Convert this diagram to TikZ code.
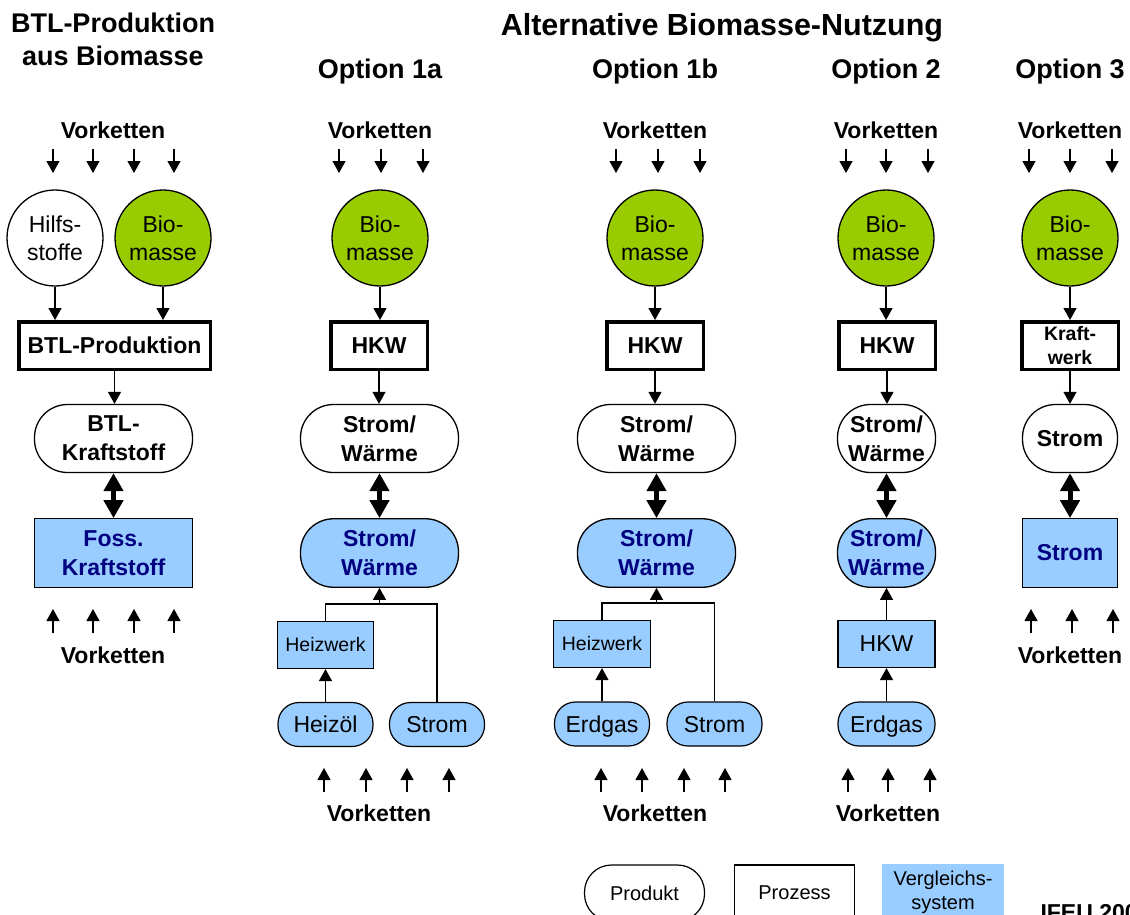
\documentclass[tikz,border=0pt]{standalone}
\usepackage{fontspec}
\setmainfont{Liberation Sans}
\usetikzlibrary{arrows.meta}

\definecolor{biogreen}{RGB}{153,204,0}
\definecolor{cmpblue}{RGB}{153,204,255}
\definecolor{cmpnavy}{RGB}{0,0,128}

\newcommand{\fsz}[2]{\fontsize{#1}{#2}\selectfont}

\tikzset{
  heading/.style={font=\bfseries\fsz{27}{33}, align=center},
  vk/.style={font=\bfseries\fsz{23}{28}},
  flow/.style={-{Triangle[width=13pt,length=12pt]}, line width=1.2pt},
  plainline/.style={line width=1.2pt},
  swapflow/.style={{Triangle[width=19pt,length=18pt]}-{Triangle[width=19pt,length=18pt]}, line width=5pt},
  circ/.style={circle, draw, line width=1.3pt, minimum size=96pt, inner sep=0pt,
    font=\fsz{23}{28}, align=center},
  proc/.style={draw, line width=3.5pt, minimum height=47.5pt, inner sep=0pt,
    font=\bfseries\fsz{23}{28}, align=center},
  prod/.style={draw, line width=1.3pt, rounded corners=33pt, minimum height=68pt, inner sep=0pt,
    font=\bfseries\fsz{23}{29}, align=center},
  cmpbig/.style={draw, line width=1.3pt, fill=cmpblue, text=cmpnavy, minimum height=68.5pt,
    inner sep=0pt, font=\bfseries\fsz{23}{29}, align=center},
  cmppill/.style={cmpbig, rounded corners=33pt},
  cmpbox/.style={draw, line width=1.2pt, fill=cmpblue, minimum height=47pt, inner sep=0pt,
    font=\fsz{19.5}{24}, align=center},
  cmpsmall/.style={draw, line width=1.2pt, fill=cmpblue, rounded corners=21pt,
    minimum height=44pt, minimum width=95pt, inner sep=0pt, font=\fsz{23}{28}, text depth=0pt},
}

\begin{document}
\begin{tikzpicture}[x=1pt, y=-1pt]
\useasboundingbox (0,0) rectangle (1130,914);
\clip (0,0) rectangle (1130,914);

% ---------- headings ----------
\node[heading] (t-btl) at (113,39) {BTL-Produktion\\aus Biomasse};
\node[heading, font=\bfseries\fsz{30.5}{33}] (t-alt) at (722,28) {Alternative Biomasse-Nutzung};
\node[heading] (t-o1a) at (380,72) {Option 1a};
\node[heading] (t-o1b) at (655,72) {Option 1b};
\node[heading] (t-o2) at (886,72) {Option 2};
\node[heading] (t-o3) at (1070,72) {Option 3};

% ---------- upstream chains (top) ----------
\node[vk] (vk-btl) at (113,130) {Vorketten};
\node[vk] (vk-1a) at (380,130) {Vorketten};
\node[vk] (vk-1b) at (655,130) {Vorketten};
\node[vk] (vk-2) at (886,130) {Vorketten};
\node[vk] (vk-3) at (1070,130) {Vorketten};
\foreach \x in {53,93,134,174, 339,381,423, 616,658,700, 846,886,928, 1029,1070,1112}
  \draw[flow] (\x,149) -- (\x,173);

% ---------- raw materials ----------
\node[circ, fill=white] (hilfs) at (55,238) {Hilfs-\\stoffe};
\node[circ, fill=biogreen] (bio0) at (163,238) {Bio-\\masse};
\node[circ, fill=biogreen] (bio1a) at (380,238) {Bio-\\masse};
\node[circ, fill=biogreen] (bio1b) at (655,238) {Bio-\\masse};
\node[circ, fill=biogreen] (bio2) at (886,238) {Bio-\\masse};
\node[circ, fill=biogreen] (bio3) at (1070,238) {Bio-\\masse};

% ---------- conversion processes ----------
\node[proc, minimum width=191.5pt] (btlprod) at (114.5,345.5) {BTL-Produktion};
\node[proc, minimum width=96.5pt] (hkw1a) at (379,345.5) {HKW};
\node[proc, minimum width=96.5pt] (hkw1b) at (655,345.5) {HKW};
\node[proc, minimum width=96.5pt] (hkw2) at (887,345.5) {HKW};
\node[proc, minimum width=96.5pt, font=\bfseries\fsz{19.5}{24}] (kw3) at (1070,345.5) {Kraft-\\werk};

\draw[flow] (hilfs.south) -- (hilfs.south |- btlprod.north);
\draw[flow] (bio0.south) -- (bio0.south |- btlprod.north);
\draw[flow] (bio1a.south) -- (bio1a.south |- hkw1a.north);
\draw[flow] (bio1b.south) -- (bio1b.south |- hkw1b.north);
\draw[flow] (bio2.south) -- (bio2.south |- hkw2.north);
\draw[flow] (bio3.south) -- (kw3.north);

% ---------- products ----------
\node[prod, minimum width=158pt] (btlks) at (113.5,438.5) {BTL-\\Kraftstoff};
\node[prod, minimum width=158pt] (sw1a) at (379.5,438.5) {Strom/\\Wärme};
\node[prod, minimum width=158pt] (sw1b) at (656.5,438.5) {Strom/\\Wärme};
\node[prod, minimum width=98pt] (sw2) at (886.5,438.5) {Strom/\\Wärme};
\node[prod, minimum width=95pt] (st3) at (1070,438.5) {Strom};

\draw[flow] (btlprod.south) -- (btlprod.south |- btlks.north);
\draw[flow] (hkw1a.south) -- (hkw1a.south |- sw1a.north);
\draw[flow] (hkw1b.south) -- (hkw1b.south |- sw1b.north);
\draw[flow] (hkw2.south) -- (hkw2.south |- sw2.north);
\draw[flow] (kw3.south) -- (st3.north);

% ---------- reference systems ----------
\node[cmpbig, minimum width=158pt] (foss) at (113.5,553) {Foss.\\Kraftstoff};
\node[cmppill, minimum width=158pt] (ref1a) at (379.5,553) {Strom/\\Wärme};
\node[cmppill, minimum width=158pt] (ref1b) at (656.5,553) {Strom/\\Wärme};
\node[cmppill, minimum width=98pt] (ref2) at (886.5,553) {Strom/\\Wärme};
\node[cmpbig, minimum width=95pt] (ref3) at (1070,553) {Strom};

\draw[swapflow] (btlks.south) -- (foss.north);
\draw[swapflow] (sw1a.south) -- (ref1a.north);
\draw[swapflow] (sw1b.south) -- (ref1b.north);
\draw[swapflow] (sw2.south) -- (ref2.north);
\draw[swapflow] (st3.south) -- (ref3.north);

% ---------- upstream chains (bottom, left and right) ----------
\foreach \x in {53,93,134,174, 1031,1072,1113}
  \draw[flow] (\x,633) -- (\x,609);
\node[vk] (vkb-btl) at (113,655) {Vorketten};
\node[vk] (vkb-3) at (1070,655) {Vorketten};

% ---------- option 1a: heating plant + grid power ----------
\node[cmpbox, minimum width=95.5pt] (hw1a) at (325.5,645) {Heizwerk};
\node[cmpsmall] (oil1a) at (325.5,724.5) {Heizöl};
\node[cmpsmall] (el1a) at (437,724.5) {Strom};
\coordinate (j1a) at (379.5,604);
\draw[plainline] (hw1a.north) |- (el1a.north |- j1a) -- (el1a.north);
\draw[flow] (j1a) -- (ref1a.south);
\draw[flow] (oil1a.north) -- (hw1a.south);
\foreach \x in {324,366,407,449}
  \draw[flow] (\x,792) -- (\x,768);
\node[vk] (vkb-1a) at (379,813) {Vorketten};

% ---------- option 1b: heating plant + grid power ----------
\node[cmpbox, minimum width=96.5pt] (hw1b) at (602,644) {Heizwerk};
\node[cmpsmall] (gas1b) at (602,724) {Erdgas};
\node[cmpsmall] (el1b) at (714.5,724) {Strom};
\coordinate (j1b) at (656.5,603);
\draw[plainline] (hw1b.north) |- (el1b.north |- j1b) -- (el1b.north);
\draw[flow] (j1b) -- (ref1b.south);
\draw[flow] (gas1b.north) -- (hw1b.south);
\foreach \x in {601,642,684,725}
  \draw[flow] (\x,792) -- (\x,768);
\node[vk] (vkb-1b) at (655,813) {Vorketten};

% ---------- option 2: gas CHP ----------
\node[cmpbox, minimum width=97pt, font=\fsz{23}{28}] (hkwv2) at (886.5,644) {HKW};
\node[cmpsmall, minimum width=97pt] (gas2) at (886.5,724) {Erdgas};
\draw[flow] (hkwv2.north) -- (ref2.south);
\draw[flow] (gas2.north) -- (hkwv2.south);
\foreach \x in {848,888,930}
  \draw[flow] (\x,792) -- (\x,768);
\node[vk] (vkb-2) at (888,813) {Vorketten};

% ---------- legend ----------
\node[draw, line width=1.2pt, rounded corners=27pt, minimum width=120pt, minimum height=56pt,
  font=\fsz{20}{24}] (lg-prod) at (644.5,893) {Produkt};
\node[draw, line width=1.2pt, minimum width=120pt, minimum height=56pt,
  font=\fsz{20}{24}] (lg-proc) at (794.5,893) {Prozess};
\node[fill=cmpblue, minimum width=122pt, minimum height=56pt, align=center,
  font=\fsz{20}{24}] (lg-ref) at (943,892) {Vergleichs-\\system};
\node[anchor=base west, font=\bfseries\fsz{23}{28}] (ifeu) at (1037,920) {IFEU 200};

\end{tikzpicture}
\end{document}
